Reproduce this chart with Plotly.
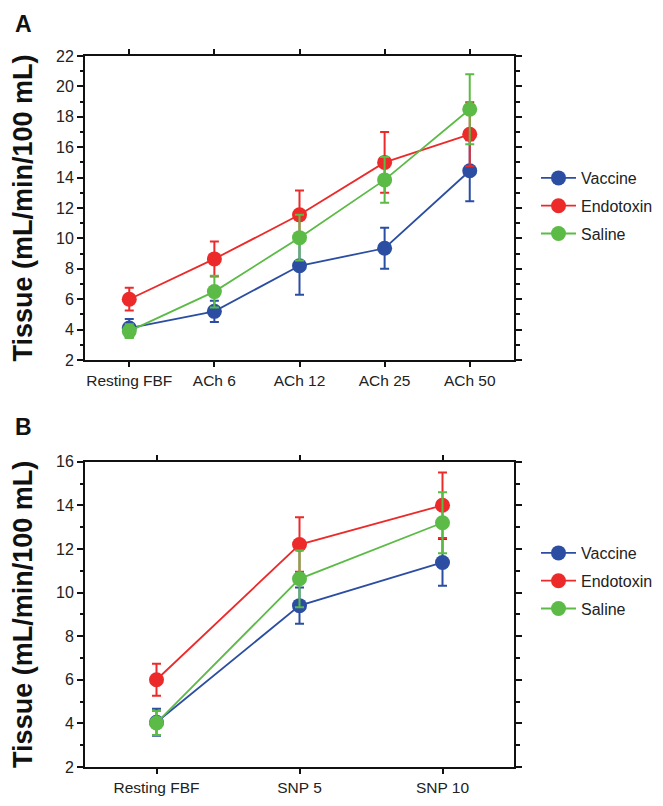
import plotly.graph_objects as go

# ---------------- data ----------------
cats_a = ["Resting FBF", "ACh 6", "ACh 12", "ACh 25", "ACh 50"]
vac_a = [4.1, 5.2, 8.2, 9.35, 14.45]
vac_a_err = [0.6, 0.7, 1.9, 1.35, 2.0]
endo_a = [6.0, 8.65, 11.55, 15.0, 16.85]
endo_a_err = [0.75, 1.15, 1.6, 2.0, 2.1]
sal_a = [3.9, 6.5, 10.05, 13.85, 18.5]
sal_a_err = [0.45, 1.05, 1.5, 1.5, 2.3]

cats_b = ["Resting FBF", "SNP 5", "SNP 10"]
vac_b = [4.05, 9.4, 11.38]
vac_b_err = [0.62, 0.83, 1.07]
endo_b = [6.0, 12.2, 14.0]
endo_b_err = [0.73, 1.25, 1.5]
sal_b = [4.02, 10.63, 13.2]
sal_b_err = [0.55, 1.3, 1.4]

names = ["Vaccine", "Endotoxin", "Saline"]
colors = ["#2b4ea2", "#ec2a2a", "#5bbb46"]

FONT = "Arial, Liberation Sans, sans-serif"

fig = go.Figure()

def add_series(cats, ys, errs, name, color, xa, ya, legend, group):
    fig.add_trace(go.Scatter(
        x=list(range(len(cats))), y=ys, name=name, mode="lines+markers",
        line=dict(color=color, width=1.8),
        marker=dict(color=color, size=15),
        error_y=dict(type="data", array=errs, visible=True, color=color,
                     thickness=2, width=4.5),
        xaxis=xa, yaxis=ya, legend=legend, legendgroup=group, showlegend=True,
    ))

for ys, errs, n, c in zip([vac_a, endo_a, sal_a], [vac_a_err, endo_a_err, sal_a_err], names, colors):
    add_series(cats_a, ys, errs, n, c, "x", "y", "legend", "a_" + n)
for ys, errs, n, c in zip([vac_b, endo_b, sal_b], [vac_b_err, endo_b_err, sal_b_err], names, colors):
    add_series(cats_b, ys, errs, n, c, "x2", "y2", "legend2", "b_" + n)

# The page body has a default 8px margin: the figure is offset by OFF and
# shrunk so that it still fits the 663x806 window.
OFF = 8
W, H = 663 - OFF, 806 - OFF
ML, MR, MT, MB = 85 - OFF, 149, 56 - OFF, 39
PW, PH = W - ML - MR, H - MT - MB


def px(x):
    return (x - OFF - ML) / PW


def py(y):
    return (H - MB - (y - OFF)) / PH


ydom_a = [py(360), 1.0]
ydom_b = [0.0, py(461.7)]

axis_common = dict(
    showline=True, linecolor="#111", linewidth=2, mirror="ticks",
    ticks="outside", tickwidth=1.8, tickcolor="#111",
    showgrid=False, zeroline=False, automargin=False,
)
xfont = dict(family=FONT, size=15.5, color="#222")
yfont = dict(family=FONT, size=16, color="#222")
minor = dict(ticks="outside", ticklen=3.5, tickwidth=1.5, tickcolor="#111", dtick=1, tick0=2)

title_txt = "<b>Tissue (mL/min/100 mL)</b>"
ytitle = dict(text=title_txt, font=dict(family=FONT, size=27, color="#111"), standoff=18)

legend_common = dict(xanchor="left", yanchor="top",
                     font=dict(family=FONT, size=16, color="#222"),
                     bgcolor="rgba(0,0,0,0)", tracegroupgap=4, itemwidth=35)

fig.update_layout(
    width=W, height=H, margin=dict(l=ML, r=MR, t=MT, b=MB, autoexpand=False),
    paper_bgcolor="white", plot_bgcolor="white",
    font=dict(family=FONT, color="#222"),
    xaxis=dict(domain=[0, 1], anchor="y", range=[-0.52, 4.52], ticklen=5,
               tickmode="array", tickvals=list(range(len(cats_a))), ticktext=cats_a,
               tickfont=xfont, **axis_common),
    yaxis=dict(domain=ydom_a, anchor="x", range=[2, 22], tickmode="linear", tick0=2, dtick=2,
               ticklen=6, minor=minor, tickfont=yfont, title=ytitle, **axis_common),
    xaxis2=dict(domain=[0, 1], anchor="y2", range=[-0.5, 2.5], ticklen=5,
                tickmode="array", tickvals=list(range(len(cats_b))), ticktext=cats_b,
                tickfont=xfont, **axis_common),
    yaxis2=dict(domain=ydom_b, anchor="x2", range=[2, 16], tickmode="linear", tick0=2, dtick=2,
                ticklen=6, minor=minor, tickfont=yfont, title=ytitle, **axis_common),
    legend=dict(x=px(536), y=py(161), **legend_common),
    legend2=dict(x=px(536), y=py(536), **legend_common),
    annotations=[
        dict(text="<b>A</b>", x=px(23), y=py(24), xref="paper", yref="paper",
             xanchor="center", yanchor="middle", showarrow=False,
             font=dict(family=FONT, size=23, color="#111")),
        dict(text="<b>B</b>", x=px(23), y=py(427), xref="paper", yref="paper",
             xanchor="center", yanchor="middle", showarrow=False,
             font=dict(family=FONT, size=23, color="#111")),
    ],
)

fig.write_html("out.html")
